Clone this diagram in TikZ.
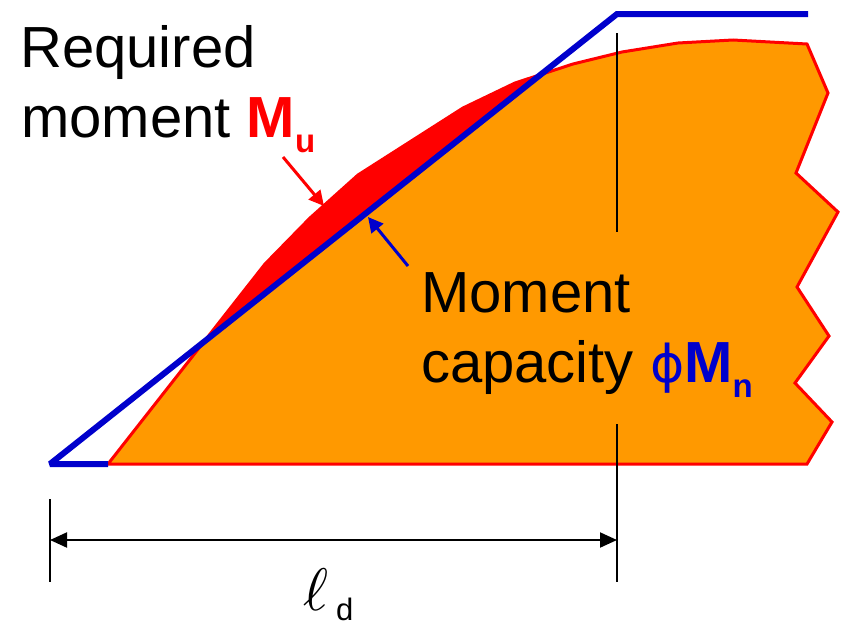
\documentclass[tikz,border=0pt]{standalone}
\usepackage{fontspec}
\setmainfont{Liberation Sans}
\newfontfamily\phifont{DejaVu Sans}
\usetikzlibrary{arrows.meta}
\definecolor{capblue}{HTML}{0000CC}
\definecolor{caporange}{HTML}{FF9900}
\definecolor{reqred}{HTML}{FF0000}
\newcommand\lowsub[2][15pt]{\raisebox{-#1}{\fontsize{33}{33}\selectfont\bfseries #2}}
\newcommand\mupath{(108,464) -- (265,264) -- (310,218) -- (358,175) -- (463,108)
  -- (515,83) -- (573,64) -- (622,52) -- (678,43) -- (733,40) -- (807,44)
  -- (828,93) -- (796,173) -- (838,212) -- (797,287) -- (829,336)
  -- (795,383) -- (832,422) -- (807,464) -- cycle}

\begin{document}
\begin{tikzpicture}[x=1pt, y=-1pt,
    every node/.style={inner sep=0pt, font=\fontsize{58}{70}\selectfont},
    lbl/.style={anchor=base west},
    capln/.style={line width=6pt, capblue, miter limit=2},
    tick/.style={line width=2pt},
    a/.style={-{Triangle[length=15pt, width=15pt]}, line width=3pt},
    dim/.style={{Triangle[length=17pt, width=15pt]}-{Triangle[length=17pt, width=15pt]}, line width=2pt}
]
\useasboundingbox (0,0) rectangle (845,624);
\coordinate (b0) at (50,464);
\coordinate (b1) at (617,14);
\coordinate (b2) at (808,14);
% required moment, shortfall in red
\draw[reqred, line width=3pt, fill=caporange] \mupath;
\begin{scope}
\clip \mupath;
\fill[reqred] (b0) -- (b1) -- (617,0) -- (0,0) -- (0,464) -- cycle;
\end{scope}
% capacity
\draw[capln] (108,464) -- (b0) -- (b1) -- (b2);
% development length
\draw[tick] (617,33) -- (617,232);
\draw[tick] (617,424) -- (617,582);
\draw[tick] (50,499) -- (50,582);
\coordinate (dl) at (50,540);
\coordinate (dr) at (617,540);
\draw[dim] (dl) -- (dr);
% pointers
\coordinate (mutail) at (283,157);
\coordinate (mutip) at (324,206);
\coordinate (phitail) at (408,266);
\coordinate (phitip) at (368,217);
\draw[a, reqred] (mutail) -- (mutip);
\draw[a, capblue] (phitail) -- (phitip);
% labels
\node[lbl] (req) at (20,67) {Required};
\node[lbl] (mom) at (21,137) {moment \textcolor{reqred}{\bfseries M\lowsub{u}}};
\node[lbl] (momcap) at (421,312) {Moment};
\node[lbl] (cap) at (421,382) {capacity \textcolor{capblue}{{\phifont\fontsize{52}{60}\selectfont ϕ}\bfseries M\lowsub{n}}};
\node[lbl] (ld) at (303,610) {\scalebox{6}{\normalsize$\ell$}\hspace{8pt}\raisebox{-10pt}{\fontsize{31}{31}\selectfont d}};
\end{tikzpicture}
\end{document}
